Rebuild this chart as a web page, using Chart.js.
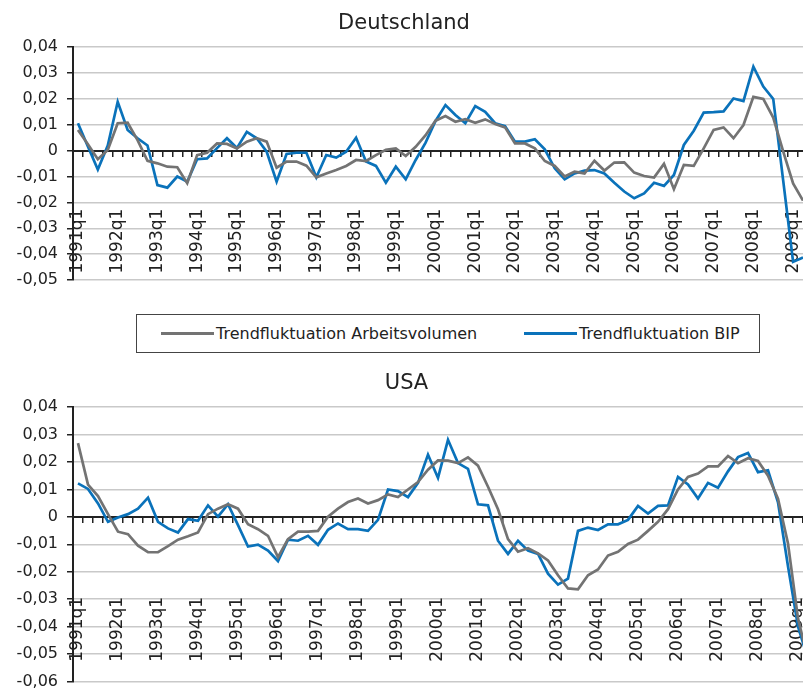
<!DOCTYPE html>
<html>
<head>
<meta charset="utf-8">
<script src="https://cdn.jsdelivr.net/npm/chart.js@4.4.1/dist/chart.umd.min.js"></script>
<style>
  html, body { margin: 0; padding: 0; background: #fff; }
  #wrap { position: relative; width: 803px; height: 689px; overflow: hidden; }
  canvas { position: absolute; left: 0; }
  #c1 { top: 0; }
  #c2 { top: 360px; }
  #legend { position: absolute; left: 136px; top: 314px; width: 622px; height: 37px; background: #fff;
            border: 1px solid #444; font: 16px 'DejaVu Sans'; color: #222; }
  .item { position: absolute; top: 0; height: 37px; line-height: 37px; white-space: nowrap; }
  .strich { display: inline-block; width: 53px; height: 3px; vertical-align: middle; margin-right: 2px; position: relative; top: -1px; }
</style>
</head>
<body>
<div id="wrap">
  <canvas id="c1" width="820" height="312"></canvas>
  <canvas id="c2" width="825" height="340"></canvas>
  <div id="legend">
    <div class="item" style="left:24px"><span class="strich" style="background:#737373"></span>Trendfluktuation Arbeitsvolumen</div>
    <div class="item" style="left:387px"><span class="strich" style="background:#0a72ba"></span>Trendfluktuation BIP</div>
  </div>
</div>
<script>
// Quartale 1991q1 .. 2009q2
const quartale = [];
for (let j = 1991; j <= 2009; j++) {
  for (let q = 1; q <= 4; q++) quartale.push(j + 'q' + q);
}
quartale.length = 74;

// Deutschland
const deArbeit = [
  0.0080, 0.0025, -0.0033, 0.0003, 0.0106, 0.0108, 0.0041, -0.0039,
  -0.0049, -0.0062, -0.0064, -0.0126, -0.0017, -0.0008, 0.0028, 0.0026,
  0.0009, 0.0035, 0.0048, 0.0035, -0.0066, -0.0042, -0.0042, -0.0058,
  -0.0103, -0.0088, -0.0075, -0.0059, -0.0036, -0.0040, -0.0017, 0.0003,
  0.0009, -0.0021, 0.0015, 0.0060, 0.0116, 0.0134, 0.0112, 0.0122,
  0.0108, 0.0121, 0.0103, 0.0090, 0.0028, 0.0028, 0.0009, -0.0040,
  -0.0059, -0.0100, -0.0081, -0.0088, -0.0039, -0.0077, -0.0046, -0.0045,
  -0.0085, -0.0098, -0.0104, -0.0051, -0.0149, -0.0055, -0.0059, 0.0009,
  0.0080, 0.0090, 0.0048, 0.0099, 0.0208, 0.0200, 0.0128, -0.0003,
  -0.0127, -0.0193
];
const deBip = [
  0.0106, 0.0016, -0.0073, 0.0020, 0.0189, 0.0080, 0.0048, 0.0020,
  -0.0133, -0.0143, -0.0100, -0.0120, -0.0033, -0.0030, 0.0010, 0.0048,
  0.0010, 0.0073, 0.0048, -0.0004, -0.0120, -0.0013, -0.0008, -0.0008,
  -0.0103, -0.0017, -0.0027, -0.0004, 0.0050, -0.0042, -0.0059, -0.0124,
  -0.0062, -0.0111, -0.0036, 0.0031, 0.0115, 0.0176, 0.0138, 0.0106,
  0.0172, 0.0150, 0.0106, 0.0095, 0.0035, 0.0035, 0.0044, 0.0005,
  -0.0068, -0.0111, -0.0088, -0.0077, -0.0075, -0.0088, -0.0124, -0.0158,
  -0.0184, -0.0165, -0.0124, -0.0136, -0.0094, 0.0022, 0.0077, 0.0147,
  0.0149, 0.0152, 0.0202, 0.0192, 0.0325, 0.0248, 0.0200, -0.0115,
  -0.0430, -0.0413
];

// USA
const usArbeit = [
  0.0269, 0.0118, 0.0076, 0.0010, -0.0054, -0.0063, -0.0105, -0.0129,
  -0.0129, -0.0107, -0.0083, -0.0071, -0.0057, 0.0010, 0.0030, 0.0046,
  0.0030, -0.0027, -0.0045, -0.0069, -0.0147, -0.0081, -0.0054, -0.0054,
  -0.0051, 0.0001, 0.0030, 0.0054, 0.0067, 0.0049, 0.0061, 0.0082,
  0.0072, 0.0100, 0.0127, 0.0172, 0.0206, 0.0205, 0.0196, 0.0217,
  0.0187, 0.0110, 0.0028, -0.0081, -0.0127, -0.0114, -0.0133, -0.0159,
  -0.0213, -0.0261, -0.0264, -0.0213, -0.0192, -0.0141, -0.0127, -0.0099,
  -0.0083, -0.0051, -0.0018, 0.0028, 0.0100, 0.0146, 0.0158, 0.0184,
  0.0184, 0.0222, 0.0196, 0.0214, 0.0204, 0.0150, 0.0066, -0.0097,
  -0.0370, -0.0520
];
const usBip = [
  0.0122, 0.0102, 0.0049, -0.0018, -0.0002, 0.0010, 0.0030, 0.0070,
  -0.0018, -0.0042, -0.0057, -0.0008, -0.0014, 0.0042, 0.0001, 0.0046,
  -0.0030, -0.0108, -0.0101, -0.0123, -0.0161, -0.0083, -0.0087, -0.0069,
  -0.0102, -0.0047, -0.0024, -0.0045, -0.0045, -0.0051, -0.0011, 0.0100,
  0.0094, 0.0072, 0.0124, 0.0227, 0.0142, 0.0281, 0.0196, 0.0175,
  0.0046, 0.0042, -0.0087, -0.0135, -0.0087, -0.0123, -0.0135, -0.0207,
  -0.0247, -0.0225, -0.0051, -0.0039, -0.0048, -0.0027, -0.0027, -0.0011,
  0.0040, 0.0012, 0.0040, 0.0042, 0.0146, 0.0118, 0.0067, 0.0124,
  0.0106, 0.0166, 0.0218, 0.0233, 0.0163, 0.0170, 0.0053, -0.0180,
  -0.0400, -0.0520
];

Chart.defaults.font.family = "'DejaVu Sans', sans-serif";
Chart.defaults.color = '#222';

function zahl(v) {
  return Math.abs(v) < 1e-9 ? '0' : v.toFixed(2).replace('.', ',');
}

function zeichne(id, titel, grau, blau, yMin, yMax, labelAbstand, padRechts, padUnten) {
  new Chart(document.getElementById(id), {
    type: 'line',
    data: {
      labels: quartale,
      datasets: [
        { label: 'Trendfluktuation Arbeitsvolumen', data: grau, borderColor: '#737373',
          borderWidth: 2.7, pointRadius: 0, tension: 0, fill: false },
        { label: 'Trendfluktuation BIP', data: blau, borderColor: '#0a72ba',
          borderWidth: 2.7, pointRadius: 0, tension: 0, fill: false }
      ]
    },
    options: {
      responsive: false,
      animation: false,
      layout: { padding: { left: 0, right: padRechts, top: 0, bottom: padUnten } },
      plugins: {
        legend: { display: false },
        tooltip: { enabled: false },
        title: { display: true, text: titel, color: '#222',
                 font: { size: 21, weight: 'normal' }, padding: { top: 11, bottom: 11 } }
      },
      scales: {
        x: {
          type: 'category',
          offset: true,
          position: { y: 0 },
          grid: { display: true, drawOnChartArea: false, drawTicks: true, tickLength: 5,
                  offset: true, tickColor: '#222', lineWidth: 1.5 },
          border: { display: true, color: '#222', width: 2 },
          ticks: {
            autoSkip: false, minRotation: 90, maxRotation: 90, padding: labelAbstand,
            color: '#222', font: { size: 17 },
            callback: (v, i) => i % 4 === 0 ? quartale[i] : ''
          },
          afterFit: s => { s.paddingLeft = 0; s.paddingRight = 0; }
        },
        y: {
          min: yMin,
          max: yMax,
          ticks: { stepSize: 0.01, padding: 9, color: '#222', font: { size: 16 }, callback: zahl },
          grid: {
            color: ctx => (ctx.tick && Math.abs(ctx.tick.value) < 1e-9) ? 'rgba(0,0,0,0)' : '#c9c9c9',
            lineWidth: 1.5, tickColor: '#222', tickLength: 6
          },
          border: { color: '#222', width: 2 },
          afterFit: s => { s.width = 73; }
        }
      }
    }
  });
}

zeichne('c1', 'Deutschland', deArbeit, deBip, -0.05, 0.04, 53, 12, 32);
zeichne('c2', 'USA', usArbeit, usBip, -0.06, 0.04, 75, 12, 16);
</script>
</body>
</html>
